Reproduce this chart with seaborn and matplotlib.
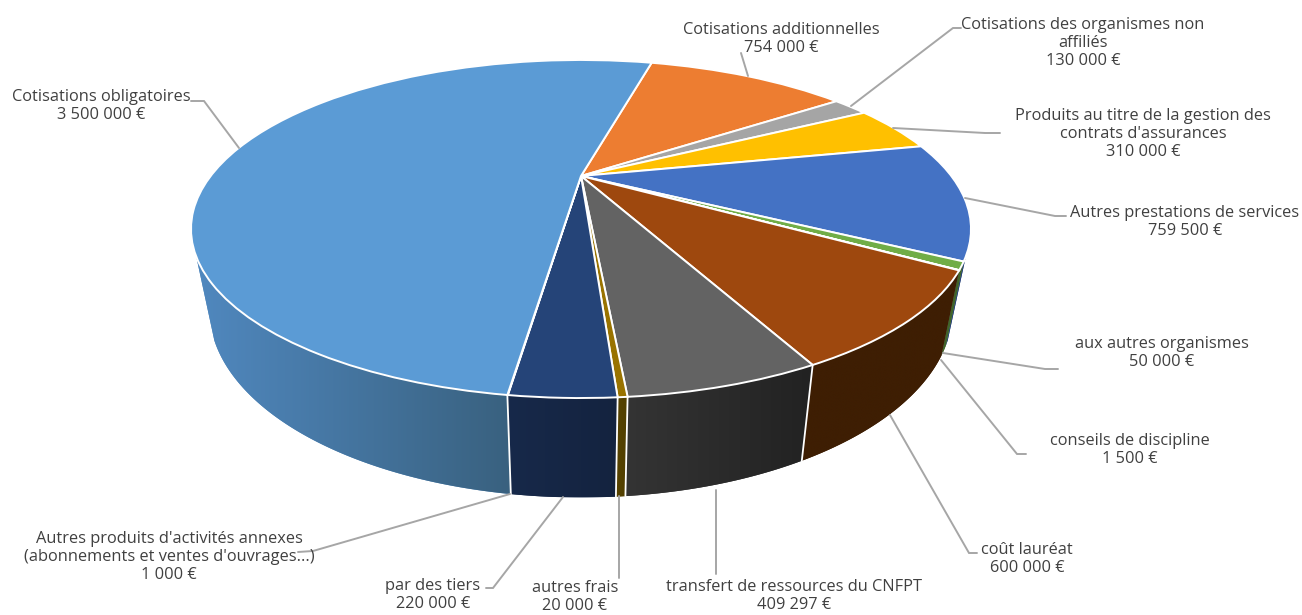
import numpy as np
import matplotlib
matplotlib.use('Agg')
import matplotlib.pyplot as plt
from matplotlib.patches import Polygon
from matplotlib.transforms import Transform
import seaborn as sns

# postes, dans le sens horaire a partir du haut
names = ['Cotisations additionnelles', 'Cotisations des organismes non\naffiliés',
         "Produits au titre de la gestion des\ncontrats d'assurances",
         'Autres prestations de services', 'aux autres organismes', 'conseils de discipline',
         'coût lauréat', 'transfert de ressources du CNFPT', 'autres frais', 'par des tiers',
         "Autres produits d'activités annexes\n(abonnements et ventes d'ouvrages...)",
         'Cotisations obligatoires']
values = [754000, 130000, 310000, 759500, 50000, 1500, 600000, 409297, 20000, 220000, 1000, 3500000]
top_colors = ['#ED7D31', '#A5A5A5', '#FFC000', '#4472C4', '#70AD47', '#264478',
              '#9E480E', '#636363', '#997300', '#254478', '#43682B', '#5B9BD5']
wall_left = ['#8A491C', '#606060', '#957000', '#28437A', '#41652A', '#162844',
             '#3E1E03', '#343434', '#574200', '#17294A', '#283E19', '#5088BF']
wall_right = ['#8A491C', '#606060', '#957000', '#28437A', '#41652A', '#162844',
              '#3E1E03', '#222222', '#504000', '#14233F', '#283E19', '#39617F']

# texte des etiquettes et traits de rappel (mise en page, en pixels)
label_pos = [(781, 39), (1083, 43), (1143, 134), (1185, 222), (1162, 353), (1130, 450),
             (1027, 559), (794, 596), (575, 597), (433, 595), (169, 557), (101, 106)]
leaders = [[(741, 53), (748, 76)],
           [(961, 28), (953, 28), (851, 106)],
           [(1000, 133), (985, 133), (893, 128)],
           [(1066, 216), (1055, 216), (965, 198)],
           [(1058, 369), (1045, 369), (943, 353)],
           [(1026, 454), (1017, 454), (941, 360)],
           [(977, 553), (969, 553), (890, 415)],
           [(716, 574), (716, 490)],
           [(619, 578), (619, 496)],
           [(486, 588), (493, 588), (563, 497)],
           [(298, 552), (313, 551), (510, 494)],
           [(191, 101), (204, 101), (239, 148)]]

CX, CY = 581, 176
BX, AY, K = 370.3, 152.4, 0.3136
START = 75.6


def project(u, v):
    d = 1 + K * v
    return BX * u / d, -AY * v / d


class Tilt(Transform):
    input_dims = 2
    output_dims = 2

    def transform_non_affine(self, xy):
        xy = np.asarray(xy, dtype=float)
        px, py = project(xy[:, 0], xy[:, 1])
        return np.column_stack([CX + px, CY + py])


def rims(theta):
    px, py = project(np.cos(theta), np.sin(theta))
    return CX + px, CY + py, CX + 0.953 * px, CY + 75 + 1.11 * py


sns.set_theme(style='white')
plt.rcParams['font.family'] = ['Open Sans', 'DejaVu Sans']

fig, ax = plt.subplots(figsize=(13.02, 6.15), dpi=100)
fig.subplots_adjust(0, 0, 1, 1)

# parois : d'abord, le dessus les recouvre
ends = START - np.cumsum(values) / np.sum(values) * 360
starts = np.r_[START, ends[:-1]]
for a0, a1, c0, c1 in zip(starts, ends, wall_left, wall_right):
    th = np.radians(np.linspace(a0, a1, 400))
    th = th[rims(th)[1] >= CY + 80]  # seul l'avant du disque est visible
    if len(th) < 2:
        continue
    xt, yt, xb, yb = rims(th)
    outline = Polygon(np.column_stack([np.r_[xt, xb[::-1]], np.r_[yt, yb[::-1]]]), closed=True,
                      facecolor=c0, edgecolor='none', zorder=1)
    ax.add_patch(outline)
    x0, x1 = min(xt.min(), xb.min()), max(xt.max(), xb.max())
    y0, y1 = min(yt.min(), yb.min()), max(yt.max(), yb.max())
    # degrade gauche -> droite
    cmap = sns.blend_palette([c0, c1], 64, as_cmap=True)
    img = ax.imshow(np.linspace(0, 1, 256)[None, :], extent=(x0, x1, y1, y0), cmap=cmap,
                    aspect='auto', zorder=1.5, interpolation='bilinear')
    img.set_clip_path(outline)

# traits blancs entre parois
for a, val in zip(starts, values):
    th = np.radians(a)
    if np.sin(th) < -0.6 and val > 1500:
        xt, yt, xb, yb = rims(th)
        ax.plot([xt, xb], [yt, yb], color='white', lw=1.3, zorder=2)

# dessus du camembert
wedges, _ = ax.pie(values, colors=sns.color_palette(top_colors), startangle=START, counterclock=False,
                   wedgeprops={'edgecolor': 'white', 'linewidth': 1.4})
tilt = Tilt() + ax.transData
for w in wedges:
    w.set_transform(tilt)
    w.set_zorder(3)

ax.set_aspect('auto')
ax.set_xlim(0, 1302)
ax.set_ylim(615, 0)
ax.axis('off')

for pts in leaders:
    ax.plot(*zip(*pts), color='#A6A6A6', lw=1.4, zorder=4, solid_joinstyle='miter')

for name, val, (x, y) in zip(names, values, label_pos):
    amount = f'{val:,}'.replace(',', ' ') + ' €'
    ax.text(x, y, name + '\n' + amount, ha='center', va='center', fontsize=11.8,
            color='#404040', linespacing=1.2, zorder=5)

fig.savefig('out.png', dpi=100)
